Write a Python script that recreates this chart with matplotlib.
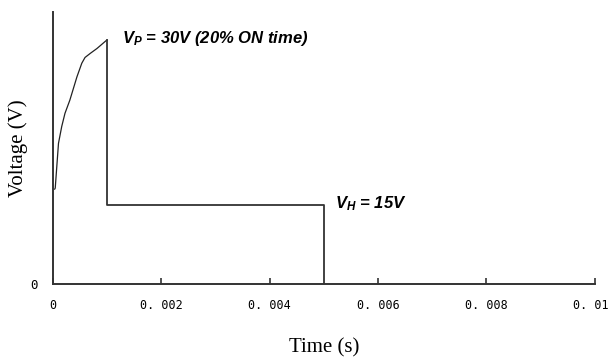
import numpy as np
import matplotlib.pyplot as plt
from matplotlib.transforms import ScaledTranslation

plt.rcParams['mathtext.fontset'] = 'custom'
plt.rcParams['mathtext.it'] = 'Liberation Sans:italic:bold'
plt.rcParams['mathtext.rm'] = 'Liberation Sans:italic:bold'

t_anstieg = [0.00003, 0.00004, 0.0001, 0.00016, 0.00022, 0.00031, 0.00044,
             0.00053, 0.00059, 0.00069, 0.00081, 0.00098, 0.001]
v_anstieg = [18.0, 18.2, 26.7, 29.9, 32.4, 34.9, 39.3, 41.9, 43.0, 43.8, 44.7, 46.2, 46.3]
t_halten = [0.001, 0.001, 0.005, 0.005]
v_halten = [46.3, 15.0, 15.0, 0.0]

x_ticks = [0, 0.002, 0.004, 0.006, 0.008, 0.01]
x_ticklabels = ["0", "0. 002", "0. 004", "0. 006", "0. 008", "0. 01"]

fig = plt.figure(figsize=(6.1, 3.58), dpi=100)
ax = fig.add_axes([0.087, 0.207, 0.888, 0.759])

ax.plot(t_anstieg, v_anstieg, color="#222222", lw=0.9)
ax.plot(t_halten, v_halten, color="#333333", lw=1.3)

ax.set_xlim(0, 0.01)
ax.set_ylim(0, 51.6)
ax.set_xticks(x_ticks)
ax.set_xticklabels(x_ticklabels, family="DejaVu Sans Mono", fontsize=8.5)
ax.set_yticks([0])
ax.set_yticklabels(["0"], family="DejaVu Sans Mono", fontsize=9)
ax.tick_params(axis="x", direction="in", length=4, width=1.2, color="#333333", pad=11)
ax.tick_params(axis="y", length=0, pad=11)

# letztes Label etwas nach links, damit es nicht abgeschnitten wird
letztes = ax.get_xticklabels()[-1]
letztes.set_transform(letztes.get_transform() + ScaledTranslation(-4 / 100, 0, fig.dpi_scale_trans))

for s in ["top", "right"]:
    ax.spines[s].set_visible(False)
for s in ["left", "bottom"]:
    ax.spines[s].set_linewidth(1.4)
    ax.spines[s].set_color("#333333")

ax.set_xlabel("Time (s)", family="Liberation Serif", fontsize=15, labelpad=19)
ax.set_ylabel("Voltage (V)", family="Liberation Serif", fontsize=15, labelpad=2)

ax.text(0.00128, 45.7, r"$V_P$ = 30V (20% ON time)", family="Liberation Sans",
        fontsize=12, fontweight="bold", style="italic", va="baseline")
ax.text(0.00521, 14.4, r"$V_H$ = 15V", family="Liberation Sans",
        fontsize=12, fontweight="bold", style="italic", va="baseline")

fig.savefig("out.png", dpi=100)
